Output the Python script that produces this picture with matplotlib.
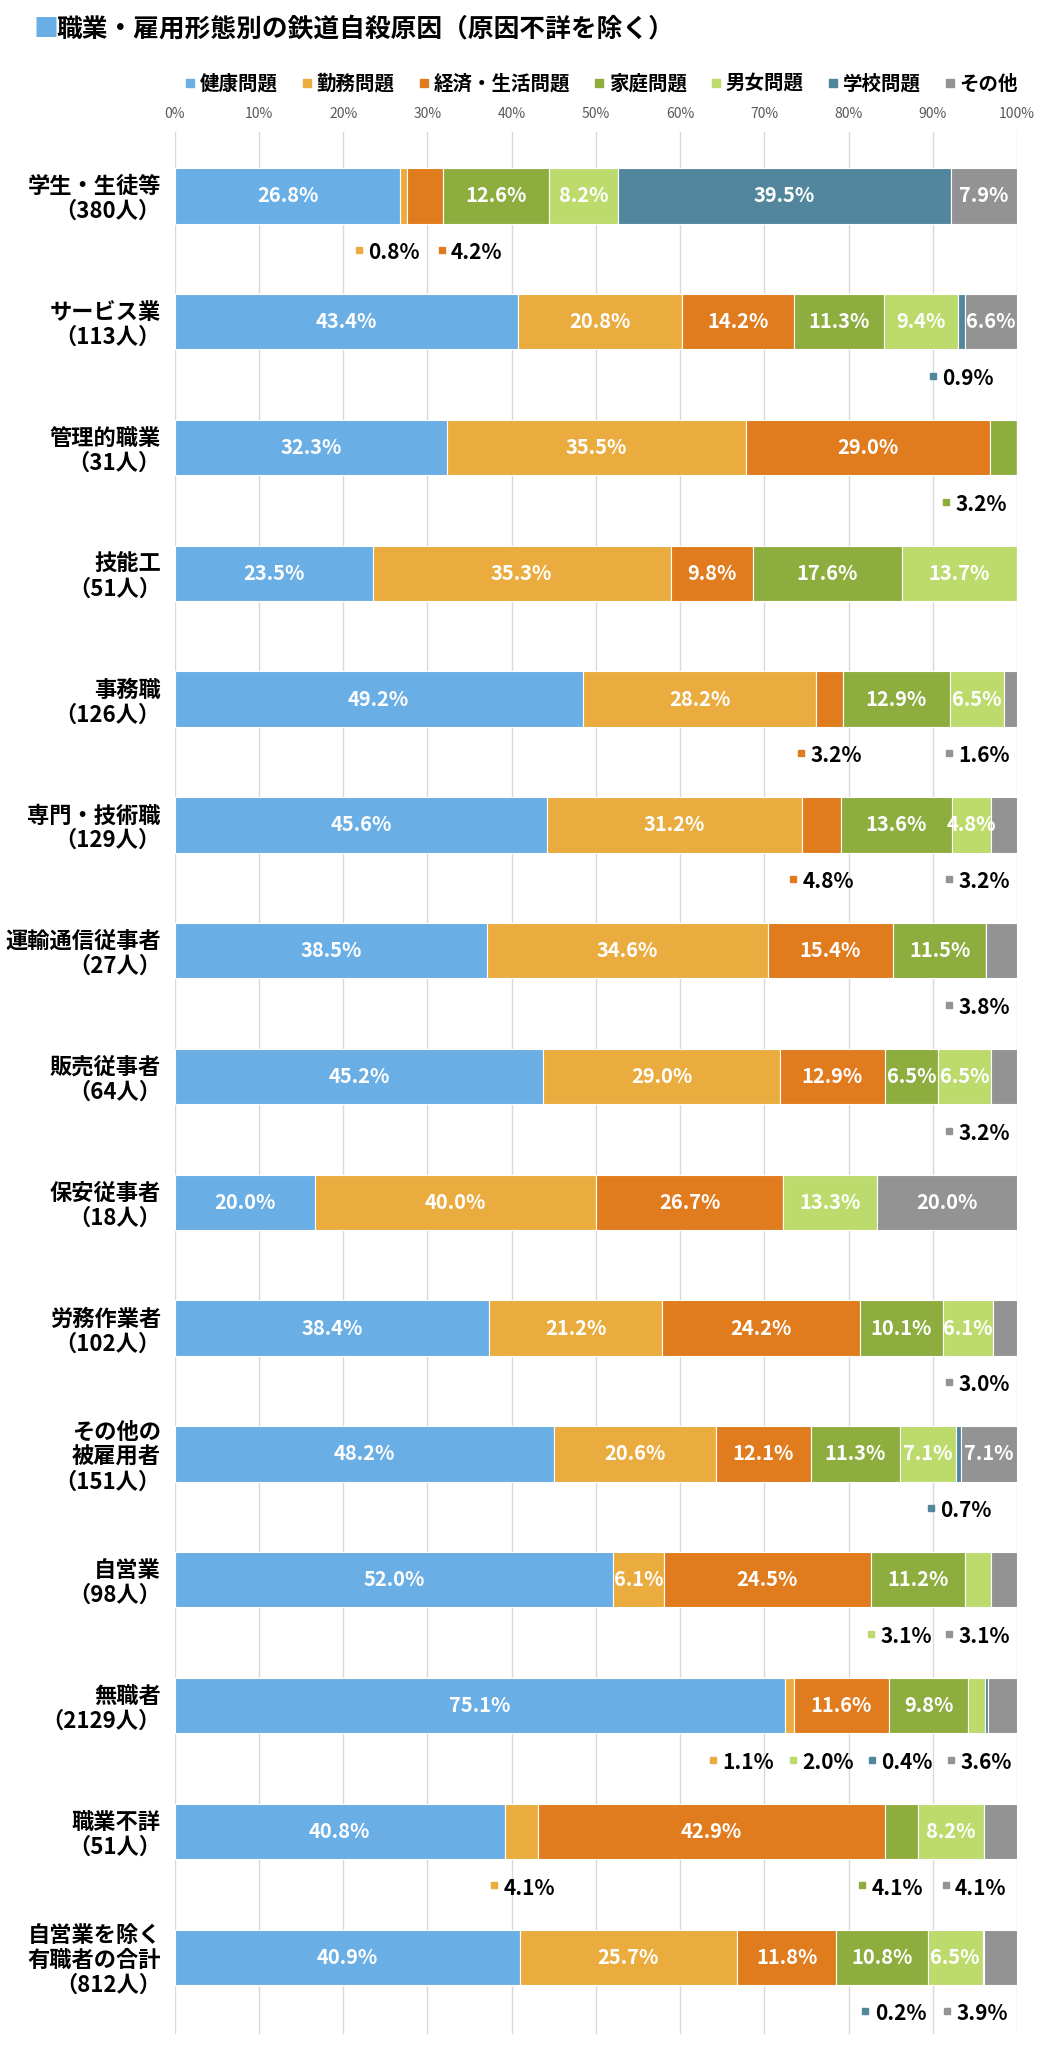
import numpy as np
import matplotlib
matplotlib.use("Agg")
from matplotlib import pyplot as plt
from matplotlib.lines import Line2D

plt.rcParams['font.family'] = ['Noto Sans CJK JP', 'DejaVu Sans']

# occupations and number of people
jobs = ['学生・生徒等', 'サービス業', '管理的職業', '技能工', '事務職', '専門・技術職',
        '運輸通信従事者', '販売従事者', '保安従事者', '労務作業者', 'その他の\n被雇用者',
        '自営業', '無職者', '職業不詳', '自営業を除く\n有職者の合計']
people = [380, 113, 31, 51, 126, 129, 27, 64, 18, 102, 151, 98, 2129, 51, 812]

causes = ['健康問題', '勤務問題', '経済・生活問題', '家庭問題', '男女問題', '学校問題', 'その他']
health = [26.8, 43.4, 32.3, 23.5, 49.2, 45.6, 38.5, 45.2, 20.0, 38.4, 48.2, 52.0, 75.1, 40.8, 40.9]
work = [0.8, 20.8, 35.5, 35.3, 28.2, 31.2, 34.6, 29.0, 40.0, 21.2, 20.6, 6.1, 1.1, 4.1, 25.7]
money = [4.2, 14.2, 29.0, 9.8, 3.2, 4.8, 15.4, 12.9, 26.7, 24.2, 12.1, 24.5, 11.6, 42.9, 11.8]
family = [12.6, 11.3, 3.2, 17.6, 12.9, 13.6, 11.5, 6.5, 0, 10.1, 11.3, 11.2, 9.8, 4.1, 10.8]
love = [8.2, 9.4, 0, 13.7, 6.5, 4.8, 0, 6.5, 13.3, 6.1, 7.1, 3.1, 2.0, 8.2, 6.5]
school = [39.5, 0.9, 0, 0, 0, 0, 0, 0, 0, 0, 0.7, 0, 0.4, 0, 0.2]
other = [7.9, 6.6, 0, 0, 1.6, 3.2, 3.8, 3.2, 20.0, 3.0, 7.1, 3.1, 3.6, 4.1, 3.9]

colors = ['#69AEE5', '#EBAC3F', '#E07B1E', '#8DAD3F', '#BDDB6D', '#52869D', '#939393']

# labels placed under the bar: (row, cause index, x of marker in %)
outside = [(0, 1, 21.9), (0, 2, 31.7), (1, 5, 90.0), (2, 3, 91.6),
           (4, 2, 74.4), (4, 6, 91.9), (5, 2, 73.4), (5, 6, 91.9),
           (6, 6, 91.9), (7, 6, 91.9), (9, 6, 91.9), (10, 5, 89.8),
           (11, 4, 82.7), (11, 6, 91.9),
           (12, 1, 63.9), (12, 4, 73.4), (12, 5, 82.8), (12, 6, 92.2),
           (13, 1, 37.9), (13, 3, 81.6), (13, 6, 91.5),
           (14, 5, 82.0), (14, 6, 91.7)]

vals = np.array([health, work, money, family, love, school, other])
share = vals / vals.sum(axis=0) * 100  # 100% stacked like excel

fig = plt.figure(figsize=(10.4, 20.52), dpi=100)
ax = fig.add_axes([0.168, 0.0088, 0.81, 0.927])

ys = np.arange(len(jobs))
left = np.zeros(len(jobs))
skip = {(r, c) for r, c, _ in outside}
for c in range(len(causes)):
    ax.barh(ys, share[c], left=left, height=0.44, color=colors[c],
            edgecolor='white', linewidth=0.8, zorder=3)
    for r in range(len(jobs)):
        if vals[c, r] > 0 and (r, c) not in skip:
            ax.text(left[r] + share[c, r] / 2, ys[r], '%.1f%%' % vals[c, r],
                    ha='center', va='center', color='white', fontsize=14.5,
                    fontweight='bold', zorder=4)
    left += share[c]

for r, c, x in outside:
    ax.plot([x], [ys[r] + 0.43], marker='s', markersize=5, color=colors[c], zorder=4)
    ax.text(x + 1.1, ys[r] + 0.45, '%.1f%%' % vals[c, r], ha='left', va='center',
            color='black', fontsize=15, fontweight='bold')

ax.set_xlim(0, 100)
ax.set_ylim(len(jobs) - 1 + 0.61, -0.51)
ax.set_xticks(np.arange(0, 101, 10))
ax.set_xticklabels(['%d%%' % t for t in range(0, 101, 10)], color='#595959', fontsize=10)
ax.xaxis.tick_top()
ax.tick_params(axis='x', length=0, pad=8)
ax.grid(axis='x', color='#d9d9d9', linewidth=1, zorder=0)
ax.set_yticks(ys)
ax.set_yticklabels(['%s\n（%d人）' % (j, n) for j, n in zip(jobs, people)],
                   fontsize=16, fontweight='bold', linespacing=1.1)
ax.tick_params(axis='y', length=0, pad=10)
for s in ax.spines.values():
    s.set_visible(False)

handles = [Line2D([], [], marker='s', linestyle='none', markersize=6, color=col) for col in colors]
leg = fig.legend(handles, causes, loc='center', bbox_to_anchor=(0.577, 0.959), ncol=7,
                 frameon=False, handletextpad=0.1, columnspacing=1.1, handlelength=0.8,
                 prop={'size': 14, 'weight': 'bold'})

fig.text(0.032, 0.986, '■', color=colors[0], fontsize=18, va='center', ha='left')
fig.text(0.054, 0.986, '職業・雇用形態別の鉄道自殺原因（原因不詳を除く）', fontsize=18.5,
         fontweight='bold', va='center', ha='left')

fig.savefig('out.png', dpi=100, facecolor='white')
